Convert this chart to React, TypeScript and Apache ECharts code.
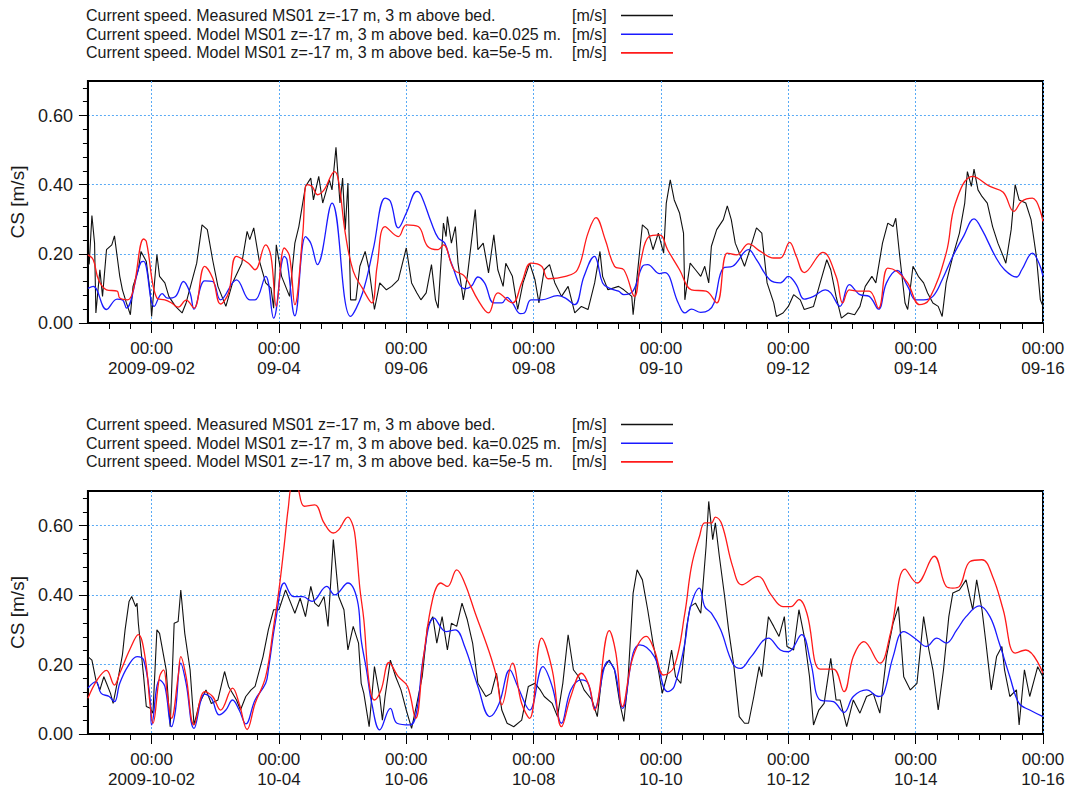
import React, { useEffect, useRef } from "react";
import * as echarts from "echarts";

// ---------- data (hours after panel start, speed m/s) ----------
const SERIES_NAMES = [
  "Current speed. Measured MS01 z=-17 m, 3 m above bed.",
  "Current speed. Model MS01 z=-17 m, 3 m above bed. ka=0.025 m.",
  "Current speed. Model MS01 z=-17 m, 3 m above bed. ka=5e-5 m.",
];
const UNIT = "[m/s]";
const SERIES_COLORS = ["#111111", "#1a1aff", "#ff1a1a"];
const Y_TICKS = [0, 0.2, 0.4, 0.6];
const X_TICK_DAYS = [2, 4, 6, 8, 10, 12, 14, 16];
const YEAR = "2009";
const TOP_MONTH = "09";
const BOTTOM_MONTH = "10";
const Y_AXIS_NAME = "CS [m/s]";

const SEP_MEASURED = [
  [0,0.164],[0.5,0.173],[1.5,0.311],[2.5,0.231],[3,0.029],[4.5,0.154],[5.5,0.077],[7,0.212],[9,0.226],[10,0.252],[11,0.193],[12,0.135],[13,0.096],[14.5,0.058],[16,0.024],[17,0.106],[19,0.154],[20,0.207],[22,0.178],[23.5,0.087],[24,0.019],[26,0.198],[27,0.135],[29,0.116],[30.5,0.077],[33,0.048],[35.5,0.029],[37,0.058],[39,0.116],[41,0.173],[43,0.284],[45,0.27],[47,0.183],[49,0.106],[52,0.048],[54.5,0.116],[58,0.173],[60,0.265],[61,0.241],[62.5,0.275],[64.5,0.183],[67,0.116],[69,0.101],[70,0.043],[71,0.226],[73,0.135],[76,0.077],[78,0.231],[79.5,0.279],[82,0.395],[84,0.419],[85,0.356],[87,0.424],[88.5,0.347],[91,0.414],[92,0.385],[93.5,0.508],[95,0.347],[96,0.419],[97,0.27],[98,0.405],[99,0.067],[101,0.067],[102.5,0.164],[104.5,0.207],[106,0.154],[108,0.039],[110,0.116],[112.5,0.096],[114.5,0.106],[117,0.125],[120,0.217],[122,0.116],[124,0.087],[125.5,0.067],[127.5,0.087],[129.5,0.169],[131,0.067],[132,0.043],[134,0.289],[135,0.25],[135.5,0.308],[137,0.231],[138.5,0.279],[139.5,0.173],[141.5,0.067],[143,0.135],[146,0.328],[147,0.212],[149,0.231],[151,0.145],[153,0.255],[154.5,0.154],[156.5,0.106],[157.5,0.173],[160,0.135],[162,0.039],[164,0.116],[166.5,0.173],[168.5,0.125],[170,0.058],[172,0.154],[174,0.169],[176,0.116],[178.5,0.077],[181,0.106],[183.5,0.029],[186,0.048],[188.5,0.039],[191,0.116],[193,0.207],[194,0.135],[196,0.096],[200,0.106],[202,0.096],[205,0.077],[205.5,0.024],[207,0.135],[209,0.284],[211,0.27],[213,0.212],[215,0.26],[217,0.202],[218,0.347],[219.5,0.414],[221,0.356],[223,0.318],[224.5,0.26],[225,0.067],[227,0.173],[229,0.154],[231,0.135],[232.5,0.164],[234,0.116],[235,0.222],[237,0.27],[239.5,0.299],[241,0.339],[242.5,0.299],[244,0.231],[246,0.193],[247.5,0.164],[249.5,0.212],[252,0.275],[254,0.26],[256,0.116],[258.5,0.058],[259.5,0.019],[262,0.029],[264,0.048],[266,0.082],[268.5,0.067],[270,0.039],[273.5,0.048],[276,0.116],[278.5,0.183],[280,0.154],[282,0.077],[284,0.014],[286.5,0.029],[289,0.024],[291,0.048],[293,0.106],[295.5,0.135],[297,0.116],[299.5,0.231],[301.5,0.289],[303.5,0.279],[304.5,0.303],[306,0.193],[308,0.058],[309,0.039],[311,0.164],[313,0.135],[315,0.116],[316.5,0.087],[318.5,0.058],[320.5,0.048],[322,0.019],[323.5,0.116],[326,0.193],[328.5,0.26],[330.5,0.347],[331.5,0.438],[333,0.395],[334,0.445],[335.5,0.385],[337,0.366],[339,0.347],[341,0.279],[343,0.231],[345,0.193],[346,0.173],[348,0.27],[349.5,0.4],[351,0.356],[353.5,0.347],[355.5,0.299],[357.5,0.193],[359,0.067],[360,0.048],
];

const SEP_MODEL_KA0025 = [
  [0,0.1],[2,0.106],[7,0.039],[11,0.069],[13,0.067],[14.5,0.043],[20,0.176],[21,0.178],[25,0.048],[28,0.085],[30,0.072],[33,0.077],[36,0.12],[38.5,0.087],[40,0.04],[44,0.122],[47,0.12],[50,0.067],[56,0.125],[61,0.067],[63,0.067],[67,0.135],[70,0.014],[74,0.193],[75,0.183],[78,0.021],[82,0.25],[84,0.231],[86.5,0.169],[92,0.347],[99,0.019],[103.5,0.087],[107.5,0.212],[112,0.361],[114,0.352],[117,0.275],[120,0.318],[124,0.381],[125.5,0.371],[129.5,0.289],[132,0.246],[134.5,0.231],[137,0.173],[142,0.099],[144.5,0.106],[147,0.133],[149.5,0.116],[153,0.058],[156,0.058],[158,0.074],[160,0.058],[163,0.027],[164.5,0.029],[167,0.067],[171,0.067],[177,0.079],[180,0.072],[183.5,0.053],[187,0.135],[191,0.193],[192,0.178],[194,0.116],[196.5,0.101],[200,0.092],[202,0.082],[205.5,0.093],[209,0.164],[211,0.169],[215.5,0.143],[217.5,0.146],[222.5,0.058],[225,0.029],[227.5,0.04],[231,0.031],[234,0.037],[236,0.058],[239.5,0.159],[243,0.164],[249,0.212],[252,0.183],[257,0.125],[261,0.116],[264,0.135],[267,0.111],[270,0.069],[273.5,0.077],[278,0.096],[280,0.087],[283.5,0.048],[287,0.111],[291,0.082],[294.5,0.077],[298,0.04],[301,0.116],[305,0.152],[309,0.106],[312,0.067],[315,0.067],[318.5,0.077],[322,0.125],[326,0.193],[330,0.25],[334,0.301],[337,0.27],[342,0.193],[345.5,0.154],[350,0.133],[352,0.154],[356,0.202],[358.5,0.173],[360,0.135],
];

const SEP_MODEL_KA5E5 = [
  [0,0.197],[2,0.183],[4,0.125],[7,0.096],[11,0.092],[12,0.072],[15,0.067],[17,0.092],[21,0.243],[22,0.236],[26,0.072],[29,0.067],[31.5,0.058],[34,0.046],[37,0.066],[40,0.043],[44,0.164],[47,0.13],[50,0.055],[53,0.087],[56,0.193],[60.5,0.173],[63,0.154],[67,0.226],[69,0.193],[71,0.048],[74,0.217],[76,0.193],[78,0.053],[81,0.26],[82.5,0.4],[84.5,0.395],[86.5,0.371],[89,0.385],[93,0.438],[94.5,0.41],[97,0.26],[100,0.15],[103.5,0.1],[107,0.058],[109,0.164],[112,0.279],[117,0.25],[120,0.284],[124.5,0.279],[128,0.222],[132,0.212],[134,0.226],[138,0.154],[142,0.135],[147,0.067],[151,0.029],[154.5,0.087],[160,0.058],[163.5,0.116],[167,0.173],[171,0.164],[173.5,0.128],[180,0.135],[184.5,0.154],[188.5,0.26],[191.5,0.305],[195,0.241],[198.5,0.164],[202,0.154],[206,0.077],[208.5,0.183],[211.5,0.25],[215.5,0.255],[218.5,0.212],[223,0.154],[227.5,0.096],[233,0.092],[237,0.058],[241,0.202],[244.5,0.197],[249,0.229],[253.5,0.207],[258.5,0.188],[261,0.188],[264.5,0.233],[267,0.193],[270,0.146],[277,0.204],[282,0.135],[284.5,0.058],[287,0.096],[290,0.092],[294.5,0.092],[298,0.043],[301.5,0.159],[305,0.149],[309,0.116],[313.5,0.053],[317,0.067],[323.5,0.202],[327,0.347],[333.5,0.424],[340,0.395],[345,0.378],[349,0.323],[352,0.352],[356,0.361],[360,0.294],
];

const OCT_MEASURED = [
  [0,0.223],[1.5,0.213],[3,0.156],[4.5,0.127],[6,0.165],[7,0.146],[8.5,0.117],[9.5,0.088],[11.5,0.165],[13,0.228],[14,0.3],[15.5,0.382],[16.5,0.396],[18,0.367],[18.5,0.377],[19,0.319],[21,0.165],[22,0.079],[23.5,0.074],[24.5,0.06],[26,0.3],[27,0.29],[29.5,0.185],[31,0.021],[31.5,0.117],[32.5,0.319],[34,0.324],[35,0.415],[36.5,0.29],[38.5,0.185],[40,0.026],[42,0.088],[44.5,0.127],[46.5,0.088],[49,0.098],[51.5,0.18],[53,0.137],[56,0.098],[57.5,0.069],[59.5,0.108],[61.5,0.127],[63,0.137],[66,0.223],[68,0.3],[70,0.358],[72,0.358],[74.5,0.415],[77,0.367],[78,0.348],[80,0.391],[82,0.338],[84,0.425],[85.5,0.377],[87,0.367],[89,0.396],[90.5,0.31],[92.5,0.56],[94.5,0.396],[96.5,0.358],[98,0.242],[100,0.31],[102,0.262],[103,0.146],[104,0.117],[106,0.021],[108,0.194],[110,0.108],[111,0.04],[112,0.108],[114,0.213],[116,0.165],[118,0.127],[120,0.069],[122,0.016],[124,0.088],[126,0.165],[128,0.31],[130,0.338],[131.5,0.262],[133.5,0.338],[135.5,0.242],[137,0.319],[139,0.31],[141,0.377],[143,0.329],[145,0.262],[147,0.146],[150,0.108],[152,0.117],[154,0.175],[156,0.069],[158,0.031],[160.5,0.021],[163.5,0.04],[166,0.137],[168.5,0.146],[170.5,0.127],[172,0.108],[175,0.088],[177,0.05],[179,0.146],[181,0.286],[183,0.185],[185,0.165],[187,0.127],[190,0.098],[192,0.05],[194,0.185],[196.5,0.213],[198.5,0.185],[200.5,0.088],[202,0.036],[203.5,0.146],[205.5,0.406],[207,0.473],[209,0.444],[211,0.358],[213,0.262],[215,0.185],[216.5,0.117],[218.5,0.175],[220,0.242],[221.5,0.165],[223.5,0.146],[225.5,0.3],[227,0.367],[229,0.377],[231,0.348],[233,0.54],[234,0.67],[235.5,0.56],[236.5,0.608],[238,0.512],[240,0.396],[241.5,0.3],[243.5,0.194],[245.5,0.05],[247.5,0.031],[249,0.031],[251,0.108],[253,0.194],[254,0.165],[256.5,0.338],[258.5,0.31],[260.5,0.281],[262.5,0.338],[263.5,0.252],[266,0.242],[268,0.358],[270,0.281],[272,0.165],[273.5,0.026],[275.5,0.069],[277.5,0.088],[280,0.218],[282,0.098],[283.5,0.098],[286,0.021],[288.5,0.098],[291,0.06],[293.5,0.108],[296,0.117],[298.5,0.06],[301,0.223],[303.5,0.319],[305.5,0.367],[307.5,0.165],[310,0.127],[312.5,0.146],[315,0.338],[317,0.242],[318.5,0.185],[320.5,0.069],[322.5,0.185],[324.5,0.338],[326,0.406],[328.5,0.415],[331,0.444],[333.5,0.358],[335,0.444],[337,0.358],[338.5,0.262],[340.5,0.127],[342.5,0.223],[344.5,0.252],[345.5,0.185],[347.5,0.108],[350,0.127],[351,0.026],[353,0.185],[355,0.108],[357,0.165],[358,0.194],[360,0.165],
];

const OCT_MODEL_KA0025 = [
  [0,0.132],[3,0.151],[5,0.117],[8,0.108],[10,0.093],[12,0.146],[15,0.194],[18.5,0.223],[21,0.213],[23.5,0.098],[24,0.026],[27,0.156],[29,0.137],[31.5,0.021],[33,0.069],[35,0.204],[37,0.146],[40,0.016],[44,0.115],[46.5,0.103],[49.5,0.055],[52,0.069],[54.5,0.098],[57,0.069],[59.5,0.029],[63,0.098],[67,0.146],[68,0.185],[71,0.338],[74,0.435],[77.5,0.396],[81,0.396],[84.5,0.382],[90,0.425],[93,0.401],[98,0.435],[101.5,0.387],[103,0.271],[105,0.185],[107,0.088],[110,0.012],[114,0.074],[116.5,0.031],[121.5,0.026],[124,0.069],[126.5,0.223],[130.5,0.334],[135,0.295],[138.5,0.3],[142,0.252],[147,0.137],[151.5,0.05],[155,0.088],[159,0.185],[162,0.137],[166.5,0.069],[171.5,0.194],[175,0.137],[178.5,0.031],[182,0.127],[186,0.156],[188.5,0.146],[191,0.074],[196,0.209],[198.5,0.185],[201.5,0.074],[205.5,0.233],[208,0.257],[213.5,0.223],[218.5,0.122],[221,0.137],[225,0.262],[227,0.362],[230.5,0.42],[232.5,0.367],[235,0.348],[238.5,0.3],[243,0.204],[246,0.189],[250,0.223],[256.5,0.276],[261,0.242],[264,0.237],[269,0.286],[272.5,0.204],[276,0.098],[281,0.093],[285,0.062],[288.5,0.108],[293.5,0.127],[298,0.108],[300,0.117],[303.5,0.223],[307.5,0.295],[312.5,0.271],[316,0.252],[320,0.276],[323.5,0.262],[327.5,0.3],[331,0.338],[336,0.369],[340,0.338],[343.5,0.262],[347.5,0.165],[351,0.088],[355,0.069],[360,0.05],
];

const OCT_MODEL_KA5E5 = [
  [0,0.103],[3.5,0.156],[7,0.183],[10,0.141],[12,0.175],[16,0.247],[19,0.286],[21.5,0.223],[23.5,0.079],[24.5,0.031],[27,0.165],[28.5,0.185],[30,0.108],[31.5,0.045],[34,0.165],[35,0.223],[37,0.165],[40,0.026],[44,0.122],[47,0.108],[50,0.069],[54.5,0.132],[57,0.088],[60,0.013],[63,0.088],[67,0.165],[70,0.31],[72,0.415],[74,0.545],[75.5,0.65],[77,0.715],[78.5,0.715],[81.5,0.656],[85.5,0.66],[89,0.608],[92.5,0.579],[94.5,0.588],[98,0.625],[100,0.598],[101,0.55],[102.5,0.42],[104,0.329],[106,0.146],[108,0.098],[110.5,0.127],[113.5,0.206],[117,0.165],[120.5,0.137],[123.5,0.045],[126.5,0.223],[130,0.391],[133,0.435],[135.5,0.425],[139,0.473],[142,0.435],[146,0.348],[151,0.242],[154,0.165],[156,0.084],[160,0.204],[163.5,0.088],[166.5,0.045],[171,0.276],[175,0.185],[178.5,0.021],[182,0.108],[186,0.175],[189,0.137],[191,0.069],[196.5,0.298],[199,0.233],[201.5,0.079],[205.5,0.223],[210.5,0.281],[213.5,0.242],[217,0.17],[221,0.194],[225,0.348],[227.5,0.483],[230.5,0.569],[232.5,0.608],[235,0.608],[236.5,0.625],[239,0.603],[243,0.483],[246.5,0.43],[252.5,0.454],[257.5,0.401],[262,0.367],[265,0.367],[268,0.387],[271,0.348],[276,0.187],[281,0.187],[285,0.122],[288.5,0.223],[292.5,0.266],[298.5,0.204],[302.5,0.29],[308,0.475],[312.5,0.435],[319,0.512],[323.5,0.425],[326,0.42],[328.5,0.425],[332.5,0.497],[337,0.502],[341,0.454],[345,0.358],[349.5,0.233],[353.5,0.242],[360,0.175],
];

// ---------- helpers ----------
const FONT = "'Liberation Sans', Arial, sans-serif";
const toDay = (rows: number[][]) => rows.map(([h, v]) => [1 + h / 24, v]);

function xAxisFor(gridIndex: number, month: string) {
  return {
    type: "value",
    gridIndex,
    min: 1,
    max: 16,
    splitNumber: 7,
    axisLine: { show: true, onZero: false, lineStyle: { color: "#000", width: 2 } },
    axisTick: { show: true, length: 10, customValues: X_TICK_DAYS, lineStyle: { color: "#000", width: 1 } },
    minorTick: { show: true, splitNumber: 6, length: 6, lineStyle: { color: "#000", width: 1 } },
    axisLabel: {
      customValues: X_TICK_DAYS,
      margin: 16,
      fontSize: 17,
      lineHeight: 19.5,
      fontFamily: FONT,
      color: "#1a1a1a",
      formatter: (v: number) => {
        const d = String(Math.round(v)).padStart(2, "0");
        return Math.round(v) === X_TICK_DAYS[0]
          ? `00:00\n${YEAR}-${month}-${d}`
          : `00:00\n${month}-${d}`;
      },
    },
    splitLine: { show: true, lineStyle: { color: "#59aaf5", type: [2, 2], width: 1 } },
  };
}

function yAxisFor(gridIndex: number) {
  return {
    type: "value",
    gridIndex,
    min: 0,
    max: 0.7,
    interval: 0.2,
    name: Y_AXIS_NAME,
    nameLocation: "middle",
    nameGap: 48,
    nameTextStyle: { fontSize: 19, fontFamily: FONT, color: "#1a1a1a" },
    axisLine: { show: true, lineStyle: { color: "#000", width: 2 } },
    axisTick: { show: true, length: 9, customValues: Y_TICKS, lineStyle: { color: "#000", width: 1 } },
    minorTick: { show: true, splitNumber: 5, length: 5, lineStyle: { color: "#000", width: 1 } },
    axisLabel: {
      customValues: Y_TICKS,
      margin: 15,
      fontSize: 18,
      fontFamily: FONT,
      color: "#1a1a1a",
      formatter: (v: number) => v.toFixed(2),
    },
    splitLine: { show: true, lineStyle: { color: "#59aaf5", type: [2, 2], width: 1 } },
  };
}

function legendAt(top: number) {
  return {
    top,
    left: 81,
    orient: "vertical",
    align: "right",
    icon: "rect",
    itemWidth: 52,
    itemHeight: 1.6,
    itemGap: 2.7,
    selectedMode: false,
    data: SERIES_NAMES,
    formatter: (name: string) => `{a|${name}}{u|${UNIT}}`,
    textStyle: {
      fontFamily: FONT,
      fontSize: 16,
      color: "#1a1a1a",
      rich: {
        a: { width: 486, align: "left", fontSize: 16, fontFamily: FONT, lineHeight: 16, color: "#1a1a1a" },
        u: { width: 44, align: "left", fontSize: 16, fontFamily: FONT, lineHeight: 16, color: "#1a1a1a" },
      },
    },
  };
}

function seriesFor(gridIndex: number, sets: number[][][]) {
  return sets.map((rows, i) => ({
    type: "line",
    name: SERIES_NAMES[i],
    xAxisIndex: gridIndex,
    yAxisIndex: gridIndex,
    data: toDay(rows),
    symbol: "none",
    smooth: i === 0 ? false : 0.4,
    lineStyle: { color: SERIES_COLORS[i], width: i === 0 ? 1.1 : 1.3 },
    itemStyle: { color: SERIES_COLORS[i] },
    z: 3 + i,
  }));
}

export default function App() {
  const ref = useRef<HTMLDivElement>(null);
  useEffect(() => {
    if (!ref.current) return;
    const chart = echarts.init(ref.current, undefined, { renderer: "svg" });
    chart.setOption({
      animation: false,
      backgroundColor: "#ffffff",
      textStyle: { fontFamily: FONT },
      legend: [legendAt(2.5), legendAt(411.5)],
      grid: [
        { left: 85, top: 81, width: 958, height: 242, show: true, borderColor: "#000", borderWidth: 2, containLabel: false },
        { left: 85, top: 491, width: 958, height: 243, show: true, borderColor: "#000", borderWidth: 2, containLabel: false },
      ],
      xAxis: [xAxisFor(0, TOP_MONTH), xAxisFor(1, BOTTOM_MONTH)],
      yAxis: [yAxisFor(0), yAxisFor(1)],
      series: [
        ...seriesFor(0, [SEP_MEASURED, SEP_MODEL_KA0025, SEP_MODEL_KA5E5]),
        ...seriesFor(1, [OCT_MEASURED, OCT_MODEL_KA0025, OCT_MODEL_KA5E5]),
      ],
    });
    return () => chart.dispose();
  }, []);
  return (
    <div
      ref={ref}
      style={{ position: "absolute", left: 0, top: 0, width: 1076, height: 792, background: "#fff" }}
    />
  );
}
